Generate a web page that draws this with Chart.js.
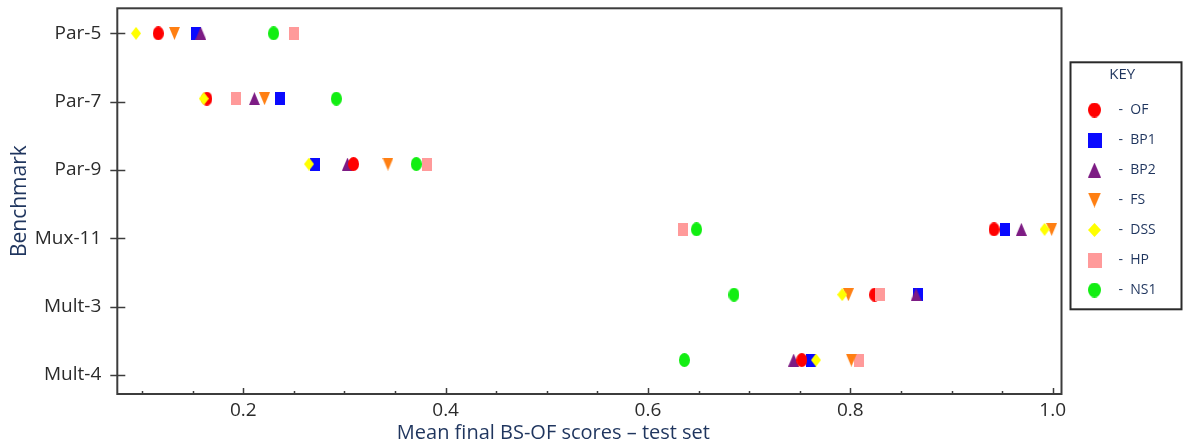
<!DOCTYPE html>
<html>
<head>
<meta charset="utf-8">
<script src="https://cdn.jsdelivr.net/npm/chart.js@4/dist/chart.umd.min.js"></script>
<style>
  html, body { margin: 0; padding: 0; background: #ffffff; }
  #wrap { width: 1183px; height: 445px; position: relative; }
</style>
</head>
<body>
<div id="wrap"><canvas id="chart" width="1183" height="445"></canvas></div>
<script>
// Benchmarks (rows, top to bottom) and the score axis labels
const benchmarks = ['Par-5', 'Par-7', 'Par-9', 'Mux-11', 'Mult-3', 'Mult-4'];
const scoreTicks = [0.2, 0.4, 0.6, 0.8, 1.0];
const xTitle = 'Mean final BS-OF scores \u2013 test set';

// Mean final BS-OF score on the test set, one value per benchmark
const seriesNames = ['OF', 'BP1', 'BP2', 'FS', 'DSS', 'HP', 'NS1'];
const OF  = [0.116, 0.164, 0.309, 0.942, 0.824, 0.752];
const BP1 = [0.153, 0.236, 0.271, 0.953, 0.867, 0.761];
const BP2 = [0.158, 0.211, 0.303, 0.969, 0.865, 0.744];
const FS  = [0.132, 0.221, 0.343, 0.999, 0.798, 0.801];
const DSS = [0.094, 0.161, 0.265, 0.992, 0.792, 0.766];
const HP  = [0.250, 0.193, 0.382, 0.635, 0.829, 0.809];
const NS1 = [0.230, 0.292, 0.371, 0.648, 0.685, 0.636];
const seriesValues = [OF, BP1, BP2, FS, DSS, HP, NS1];

// Marker look per series
const markerStyle = {
  OF:  { shape: 'circle',       color: '#ff0000', order: 4 },
  BP1: { shape: 'square',       color: '#0a0aff', order: 6 },
  BP2: { shape: 'triangle',     color: '#7d1c84', order: 5 },
  FS:  { shape: 'triangleDown', color: '#ff7f12', order: 2 },
  DSS: { shape: 'diamond',      color: '#ffff00', order: 1 },
  HP:  { shape: 'square',       color: '#ff9a9a', order: 3 },
  NS1: { shape: 'circle',       color: '#12ee12', order: 0 }
};
const plotSize = { circle: [11, 14], square: [10, 13], triangle: [11, 13], triangleDown: [11, 13], diamond: [10, 13] };
const keySize  = { circle: [13, 15], square: [14, 15], triangle: [13, 15], triangleDown: [13, 15], diamond: [13, 14] };

function markerCanvas(shape, color, w, h) {
  const c = document.createElement('canvas');
  c.width = w; c.height = h;
  const g = c.getContext('2d');
  g.fillStyle = color;
  g.beginPath();
  if (shape === 'circle') {
    g.ellipse(w / 2, h / 2, w / 2, h / 2, 0, 0, Math.PI * 2);
  } else if (shape === 'square') {
    g.rect(0, 0, w, h);
  } else if (shape === 'triangle') {
    g.moveTo(w / 2, 0); g.lineTo(w, h); g.lineTo(0, h); g.closePath();
  } else if (shape === 'triangleDown') {
    g.moveTo(0, 0); g.lineTo(w, 0); g.lineTo(w / 2, h); g.closePath();
  } else {
    g.moveTo(w / 2, 0); g.lineTo(w, h / 2); g.lineTo(w / 2, h); g.lineTo(0, h / 2); g.closePath();
  }
  g.fill();
  return c;
}

const plotMarkers = {}, keyMarkers = {};
seriesNames.forEach(name => {
  const s = markerStyle[name];
  plotMarkers[name] = markerCanvas(s.shape, s.color, ...plotSize[s.shape]);
  keyMarkers[name]  = markerCanvas(s.shape, s.color, ...keySize[s.shape]);
});

const datasets = seriesNames.map((name, k) => ({
  label: name,
  data: seriesValues[k].map((v, i) => ({ x: v, y: i })),
  pointStyle: plotMarkers[name],
  pointRadius: 7,
  pointHoverRadius: 7,
  backgroundColor: markerStyle[name].color,
  borderColor: markerStyle[name].color,
  showLine: false,
  order: markerStyle[name].order,
  xAxisID: 'x',
  yAxisID: 'y'
}));

const AXIS_DARK = '#3c3c3c';
const TITLE_BLUE = '#1f355e';
const fontFamily = '"Open Sans", "Noto Sans", "DejaVu Sans", sans-serif';

// Frame around the plot, tick marks on the axes, x title and the boxed key
const framePlugin = {
  id: 'frame',
  beforeInit(chart) {
    const legend = chart.legend;
    const fit = legend.fit;
    legend.fit = function () {
      fit.call(this);
      this.width = 121.5;
    };
  },
  afterDraw(chart) {
    const { ctx, chartArea: a } = chart;
    const xs = chart.scales.x, yc = chart.scales.yCat;
    ctx.save();
    ctx.strokeStyle = AXIS_DARK;
    ctx.lineWidth = 1.5;
    // x ticks point into the plot; longer at labelled values
    xs.ticks.forEach(t => {
      const px = Math.round(xs.getPixelForValue(t.value)) + 0.5;
      const major = scoreTicks.some(v => Math.abs(v - t.value) < 1e-6);
      ctx.beginPath();
      ctx.moveTo(px, a.bottom);
      ctx.lineTo(px, a.bottom - (major ? 6 : 3));
      ctx.stroke();
    });
    // y ticks cross the axis
    yc.ticks.forEach(t => {
      const py = Math.round(yc.getPixelForValue(t.value)) + 0.5;
      ctx.beginPath();
      ctx.moveTo(a.left - 7, py);
      ctx.lineTo(a.left + 8, py);
      ctx.stroke();
    });
    ctx.lineWidth = 2;
    ctx.strokeRect(a.left, a.top, a.right - a.left, a.bottom - a.top);

    // x axis title, set slightly left of the plot centre
    ctx.fillStyle = TITLE_BLUE;
    ctx.font = '20px ' + fontFamily;
    ctx.textAlign = 'center';
    ctx.textBaseline = 'middle';
    ctx.fillText(xTitle, (a.left + a.right) / 2 - 36, xs.bottom - 12);

    // key box
    const lg = chart.legend;
    ctx.strokeStyle = '#2a2a2a';
    ctx.lineWidth = 2;
    ctx.strokeRect(lg.left + 9, lg.top + 54, lg.right - lg.left - 10.5, 247);
    ctx.restore();
  }
};

new Chart(document.getElementById('chart'), {
  type: 'scatter',
  data: { datasets },
  options: {
    responsive: false,
    animation: false,
    layout: { padding: { top: 8.3, left: 0, right: 0, bottom: 0 } },
    scales: {
      x: {
        type: 'linear',
        position: 'bottom',
        min: 0.0755,
        max: 1.0087,
        grid: { display: false, drawTicks: false },
        border: { display: false },
        afterBuildTicks(scale) {
          const ticks = [];
          for (let k = 2; k <= 20; k++) ticks.push({ value: k / 20 });
          scale.ticks = ticks;
        },
        afterFit(scale) {
          scale.height = 51;
          scale.paddingLeft = 0;
          scale.paddingRight = 0;
        },
        ticks: {
          autoSkip: false,
          maxRotation: 0,
          padding: 5,
          color: '#2b2b2b',
          font: { family: fontFamily, size: 19 },
          callback(value) {
            const hit = scoreTicks.find(v => Math.abs(v - value) < 1e-6);
            return hit === undefined ? '' : hit.toFixed(1);
          }
        },
        title: { display: false }
      },
      y: {
        type: 'linear',
        display: false,
        reverse: true,
        min: -0.383,
        max: 5.52
      },
      yCat: {
        type: 'linear',
        position: 'left',
        reverse: true,
        min: -0.366,
        max: 5.278,
        grid: { display: false, drawTicks: false },
        border: { display: false },
        afterBuildTicks(scale) {
          scale.ticks = benchmarks.map((b, i) => ({ value: i }));
        },
        afterFit(scale) {
          scale.width = 117.3;
          scale.paddingTop = 0;
          scale.paddingBottom = 0;
        },
        ticks: {
          padding: 16,
          color: '#2b2b2b',
          font: { family: fontFamily, size: 19 },
          callback(value) { return benchmarks[value] ?? ''; }
        },
        title: {
          display: true,
          text: 'Benchmark',
          color: TITLE_BLUE,
          font: { family: fontFamily, size: 21 },
          padding: { top: 7.4, bottom: 0 }
        }
      }
    },
    plugins: {
      tooltip: { enabled: false },
      legend: {
        position: 'right',
        align: 'start',
        title: {
          display: true,
          text: 'KEY',
          color: TITLE_BLUE,
          font: { family: fontFamily, size: 15 },
          padding: { top: 59.2, bottom: 1.5 }
        },
        labels: {
          usePointStyle: true,
          pointStyleWidth: 34,
          padding: 16,
          color: TITLE_BLUE,
          font: { family: fontFamily, size: 14 },
          sort: (a, b) => a.datasetIndex - b.datasetIndex,
          generateLabels(chart) {
            const items = Chart.defaults.plugins.legend.labels.generateLabels(chart);
            return items.map(it => {
              const name = chart.data.datasets[it.datasetIndex].label;
              it.text = '-  ' + name;
              it.pointStyle = keyMarkers[name];
              it.fontColor = TITLE_BLUE;
              return it;
            });
          }
        }
      }
    }
  },
  plugins: [framePlugin]
});
</script>
</body>
</html>
